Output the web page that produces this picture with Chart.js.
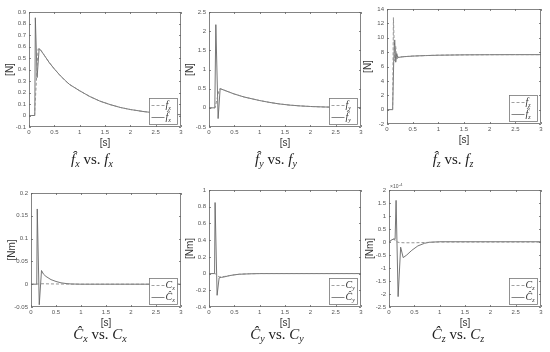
<!DOCTYPE html>
<html>
<head>
<meta charset="utf-8">
<script src="https://cdn.jsdelivr.net/npm/chart.js@4.4.1/dist/chart.umd.min.js"></script>
<style>
  body { margin: 0; background: #fff; }
  #wrap { position: relative; width: 550px; height: 352px; overflow: hidden; }
  canvas { position: absolute; }
  .cap { position: absolute; width: 120px; margin-left: -60px; text-align: center; line-height: 16px;
         font-family: "Liberation Serif", "DejaVu Serif", serif; font-size: 15px; color: #222; white-space: nowrap; }
  .cap i { font-style: italic; }
  .cap sub { font-size: 10px; vertical-align: -3px; font-style: italic; line-height: 0; }
</style>
</head>
<body>
<div id="wrap">
  <canvas id="c1"></canvas><canvas id="c2"></canvas><canvas id="c3"></canvas>
  <canvas id="c4"></canvas><canvas id="c5"></canvas><canvas id="c6"></canvas>
  <div class="cap" style="left:92px;top:151px"><i>f̂</i><sub>x</sub> vs. <i>f</i><sub>x</sub></div>
  <div class="cap" style="left:276px;top:151px"><i>f̂</i><sub>y</sub> vs. <i>f</i><sub>y</sub></div>
  <div class="cap" style="left:453px;top:151px"><i>f̂</i><sub>z</sub> vs. <i>f</i><sub>z</sub></div>
  <div class="cap" style="left:100px;top:326px"><i>Ĉ</i><sub>x</sub> vs. <i>C</i><sub>x</sub></div>
  <div class="cap" style="left:277px;top:326px"><i>Ĉ</i><sub>y</sub> vs. <i>C</i><sub>y</sub></div>
  <div class="cap" style="left:458px;top:326px"><i>Ĉ</i><sub>z</sub> vs. <i>C</i><sub>z</sub></div>
</div>
<script>
// time ticks shared by all panels
var timeTicks = [0, 0.5, 1, 1.5, 2, 2.5, 3];

// force fx: actual (dashed) and estimate (solid)
var tFx = [0, 0.1, 0.11, 0.18, 0.22, 0.3, 0.4, 0.5, 0.6, 0.7, 0.8, 1.0, 1.2, 1.4, 1.6, 1.8, 2.0, 2.25, 2.5, 2.75, 3.0];
var fx = [0, 0, 0.01, 0.58, 0.575, 0.525, 0.46, 0.405, 0.355, 0.31, 0.27, 0.215, 0.165, 0.125, 0.095, 0.07, 0.052, 0.035, 0.022, 0.013, 0.007];
var tFxHat = [0, 0.115, 0.125, 0.16, 0.2, 0.22, 0.3, 0.4, 0.5, 0.6, 0.7, 0.8, 1.0, 1.2, 1.4, 1.6, 1.8, 2.0, 2.25, 2.5, 2.75, 3.0];
var fxHat = [0, 0, 0.85, 0.33, 0.58, 0.575, 0.525, 0.46, 0.405, 0.355, 0.31, 0.27, 0.215, 0.165, 0.125, 0.095, 0.07, 0.052, 0.035, 0.022, 0.013, 0.007];

// force fy
var tFy = [0, 0.12, 0.2, 0.22, 0.3, 0.4, 0.5, 0.6, 0.7, 0.8, 1.0, 1.2, 1.4, 1.6, 1.8, 2.0, 2.25, 2.5, 2.75, 3.0];
var fy = [0, 0, 0.48, 0.5, 0.46, 0.41, 0.36, 0.32, 0.28, 0.25, 0.19, 0.14, 0.1, 0.07, 0.05, 0.035, 0.023, 0.015, 0.01, 0.006];
var tFyHat = [0, 0.115, 0.135, 0.18, 0.22, 0.3, 0.4, 0.5, 0.6, 0.7, 0.8, 1.0, 1.2, 1.4, 1.6, 1.8, 2.0, 2.25, 2.5, 2.75, 3.0];
var fyHat = [0, 0, 2.17, -0.28, 0.5, 0.46, 0.41, 0.36, 0.32, 0.28, 0.25, 0.19, 0.14, 0.1, 0.07, 0.05, 0.035, 0.023, 0.015, 0.01, 0.006];

// force fz
var tFz = [0, 0.1, 0.11, 0.125, 0.15, 0.17, 0.19, 0.21, 0.3, 0.5, 0.75, 1.0, 1.5, 2.0, 2.5, 3.0];
var fz = [0, 0, 0, 12.8, 6.8, 8.8, 6.9, 7.3, 7.35, 7.45, 7.52, 7.57, 7.62, 7.64, 7.65, 7.65];
var tFzHat = [0, 0.11, 0.13, 0.15, 0.17, 0.19, 0.21, 0.3, 0.5, 0.75, 1.0, 1.5, 2.0, 2.5, 3.0];
var fzHat = [0, 0, 6.5, 9.7, 6.6, 7.8, 7.25, 7.35, 7.45, 7.52, 7.57, 7.62, 7.64, 7.65, 7.65];

// torque Cx
var tCx = [0, 0.1, 0.2, 0.5, 1.0, 3.0];
var cx = [0, 0, 0.001, 0.0005, 0, 0];
var tCxHat = [0, 0.115, 0.125, 0.165, 0.21, 0.25, 0.3, 0.4, 0.5, 0.6, 0.7, 0.8, 1.0, 3.0];
var cxHat = [0, 0, 0.165, -0.045, 0.03, 0.022, 0.017, 0.01, 0.006, 0.003, 0.0015, 0.0005, 0, 0];

// torque Cy
var tCy = [0, 0.12, 0.2, 0.3, 0.4, 0.5, 0.6, 0.8, 1.0, 3.0];
var cy = [0, 0, -0.04, -0.035, -0.025, -0.015, -0.008, -0.002, 0, 0];
var tCyHat = [0, 0.11, 0.12, 0.16, 0.2, 0.25, 0.3, 0.4, 0.5, 0.6, 0.8, 1.0, 3.0];
var cyHat = [0, 0, 0.85, -0.26, -0.05, -0.045, -0.04, -0.025, -0.015, -0.008, -0.003, 0, 0];

// torque Cz, in units of 1e-4 Nm
var tCz = [0, 0.1, 0.13, 0.2, 0.3, 0.5, 0.7, 1.0, 3.0];
var cz = [0, 0.12, 0.02, -0.02, -0.03, -0.03, -0.02, 0, 0];
var tCzHat = [0, 0.05, 0.1, 0.12, 0.14, 0.18, 0.23, 0.28, 0.35, 0.45, 0.57, 0.7, 0.8, 1.0, 3.0];
var czHat = [0, 0.08, 0.12, 0.1, 1.6, -2.1, -0.2, -0.6, -0.5, -0.32, -0.15, -0.05, -0.01, 0.01, 0.01];

function pts(t, v) {
  return t.map(function(x, i) { return { x: x, y: v[i] }; });
}

function fmt(v) {
  return String(Math.round(v * 1e6) / 1e6);
}

// frame, inward ticks, legend box, exponent label
var matlabBox = {
  id: 'matlabBox',
  afterDraw: function(chart) {
    var ca = chart.chartArea, ctx = chart.ctx, o = chart.options.plugins.matlabBox;
    ctx.save();
    ctx.strokeStyle = '#666';
    ctx.lineWidth = 0.8;
    ctx.strokeRect(ca.left + 0.5, ca.top + 0.5, ca.right - ca.left - 1, ca.bottom - ca.top - 1);
    var xs = chart.scales.x, ys = chart.scales.y;
    ctx.beginPath();
    xs.ticks.forEach(function(tk) {
      var px = Math.round(xs.getPixelForValue(tk.value)) + 0.5;
      ctx.moveTo(px, ca.bottom); ctx.lineTo(px, ca.bottom - 2);
      ctx.moveTo(px, ca.top); ctx.lineTo(px, ca.top + 2);
    });
    ys.ticks.forEach(function(tk) {
      var py = Math.round(ys.getPixelForValue(tk.value)) + 0.5;
      ctx.moveTo(ca.left, py); ctx.lineTo(ca.left + 2, py);
      ctx.moveTo(ca.right, py); ctx.lineTo(ca.right - 2, py);
    });
    ctx.stroke();

    // legend
    var w = 28, h = 26;
    var bx = Math.round(ca.right - 4 - w) + 0.5, by = Math.round(ca.bottom - 3 - h) + 0.5;
    ctx.fillStyle = '#fff';
    ctx.fillRect(bx, by, w, h);
    ctx.strokeStyle = '#777';
    ctx.strokeRect(bx, by, w, h);
    var rows = [[3, 2], []];
    for (var i = 0; i < 2; i++) {
      var ly = by + 7 + i * 12;
      ctx.strokeStyle = i === 0 ? '#888' : '#666';
      ctx.setLineDash(rows[i]);
      ctx.lineWidth = 0.8;
      ctx.beginPath(); ctx.moveTo(bx + 2, ly); ctx.lineTo(bx + 15, ly); ctx.stroke();
      ctx.setLineDash([]);
      ctx.fillStyle = '#333';
      ctx.textBaseline = 'middle';
      ctx.font = 'italic 10px "Liberation Serif", serif';
      ctx.fillText(o.sym[i], bx + 16, ly);
      var sw = ctx.measureText(o.sym[i]).width;
      ctx.font = 'italic 6px "Liberation Serif", serif';
      ctx.fillText(o.sub, bx + 16 + sw, ly + 3);
    }

    if (o.exp) {
      ctx.fillStyle = '#555';
      ctx.textBaseline = 'alphabetic';
      ctx.font = '5px "Liberation Sans", sans-serif';
      ctx.fillText('×10', ca.left + 1, ca.top - 2);
      ctx.font = '4px "Liberation Sans", sans-serif';
      ctx.fillText('-4', ca.left + 10, ca.top - 4);
    }
    ctx.restore();
  }
};

function panel(id, area, yMin, yMax, yStep, yTitle, tA, vA, tE, vE, sym, sub, exp) {
  var cv = document.getElementById(id);
  var left = area[0] - 29, top = area[1] - 8;
  cv.width = area[2] - area[0] + 29 + 6;
  cv.height = area[3] - area[1] + 8 + 26;
  cv.style.left = left + 'px';
  cv.style.top = top + 'px';
  var tickFont = { family: '"Liberation Sans", sans-serif', size: 6 };
  new Chart(cv.getContext('2d'), {
    type: 'line',
    data: {
      datasets: [
        { data: pts(tA, vA), borderColor: '#888', borderWidth: 0.9, borderDash: [3, 2], pointRadius: 0, tension: 0 },
        { data: pts(tE, vE), borderColor: '#666', borderWidth: 0.9, pointRadius: 0, tension: 0 }
      ]
    },
    options: {
      responsive: false,
      animation: false,
      devicePixelRatio: 1,
      layout: { padding: { top: 8, right: 6, left: 0, bottom: 0 }, autoPadding: false },
      plugins: {
        legend: { display: false },
        tooltip: { enabled: false },
        matlabBox: { sym: sym, sub: sub, exp: exp }
      },
      scales: {
        x: {
          type: 'linear', min: 0, max: 3,
          afterBuildTicks: function(s) { s.ticks = timeTicks.map(function(v) { return { value: v }; }); },
          afterFit: function(s) { s.height = 26; },
          grid: { display: false, drawTicks: false },
          border: { display: false },
          ticks: { font: tickFont, color: '#555', padding: 2, maxRotation: 0, callback: fmt },
          title: { display: true, text: '[s]', font: { family: '"Liberation Sans", sans-serif', size: 10 }, color: '#333', padding: { top: 0, bottom: 4 } }
        },
        y: {
          min: yMin, max: yMax,
          afterFit: function(s) { s.width = 29; },
          grid: { display: false, drawTicks: false },
          border: { display: false },
          ticks: { font: tickFont, color: '#555', padding: 3, stepSize: yStep, callback: fmt },
          title: { display: true, text: yTitle, font: { family: '"Liberation Sans", sans-serif', size: 10 }, color: '#333', padding: { top: 4, bottom: 0 } }
        }
      }
    },
    plugins: [matlabBox]
  });
}

panel('c1', [29, 12, 181, 127], -0.1, 0.9, 0.1, '[N]', tFx, fx, tFxHat, fxHat, ['f', 'f̂'], 'x', false);
panel('c2', [209, 12, 361, 127], -0.5, 2.5, 0.5, '[N]', tFy, fy, tFyHat, fyHat, ['f', 'f̂'], 'y', false);
panel('c3', [387, 9, 541, 124], -2, 14, 2, '[N]', tFz, fz, tFzHat, fzHat, ['f', 'f̂'], 'z', false);
panel('c4', [31, 193, 181, 307], -0.05, 0.2, 0.05, '[Nm]', tCx, cx, tCxHat, cxHat, ['C', 'Ĉ'], 'x', false);
panel('c5', [209, 190, 361, 307], -0.4, 1, 0.2, '[Nm]', tCy, cy, tCyHat, cyHat, ['C', 'Ĉ'], 'y', false);
panel('c6', [389, 190, 541, 307], -2.5, 2, 0.5, '[Nm]', tCz, cz, tCzHat, czHat, ['C', 'Ĉ'], 'z', true);
</script>
</body>
</html>
